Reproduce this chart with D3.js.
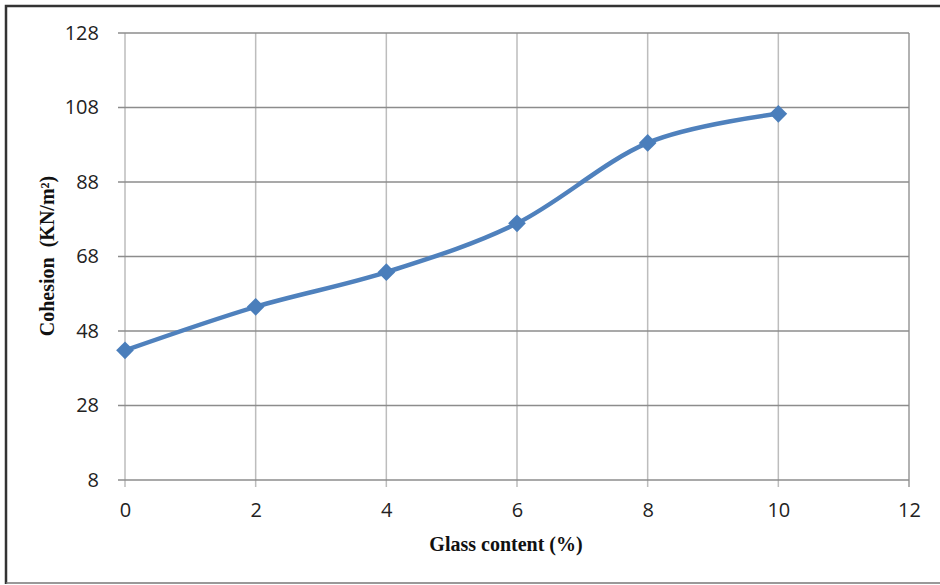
<!DOCTYPE html>
<html><head><meta charset="utf-8">
<script src="https://cdn.jsdelivr.net/npm/d3@7"></script>
<style>body{margin:0;background:#fff}svg{display:block}</style>
</head><body>
<script>
const glassContent = [0, 2, 4, 6, 8, 10];
const cohesion = [42.8, 54.5, 63.8, 76.9, 98.5, 106.3];
const xTicks = [0, 2, 4, 6, 8, 10, 12];
const yTicks = [8, 28, 48, 68, 88, 108, 128];
const xTitle = "Glass content (%)";
const yTitle = "Cohesion  (KN/m²)";

const W = 940, H = 585;
const svg = d3.select("body").append("svg").attr("width", W).attr("height", H);

// outer frame
svg.append("path").attr("d", "M6,584 L6,6 L940,6").attr("fill", "none").attr("stroke", "#333").attr("stroke-width", 2.5);
svg.append("line").attr("x1", 6).attr("x2", 940).attr("y1", 583).attr("y2", 583).attr("stroke", "#777").attr("stroke-width", 1.5);

const x = d3.scaleLinear().domain([0, 12]).range([125, 909]);
const y = d3.scaleLinear().domain([8, 128]).range([480, 33]);

// vertical gridlines
svg.append("g").selectAll("line").data(xTicks).join("line")
  .attr("x1", d => x(d)).attr("x2", d => x(d)).attr("y1", 33).attr("y2", 487)
  .attr("stroke", d => d === 12 ? "#999" : "#bdbdbd").attr("stroke-width", 1.5);
// horizontal gridlines
svg.append("g").selectAll("line").data(yTicks).join("line")
  .attr("x1", 118).attr("x2", 909).attr("y1", d => y(d)).attr("y2", d => y(d))
  .attr("stroke", "#8c8c8c").attr("stroke-width", 1.5);

// tick labels via d3 axes
const yAxis = svg.append("g").attr("transform", "translate(118,0)")
  .call(d3.axisLeft(y).tickValues(yTicks).tickSize(0).tickPadding(19).tickFormat(d3.format("d")));
const xAxis = svg.append("g").attr("transform", "translate(0,487)")
  .call(d3.axisBottom(x).tickValues(xTicks).tickSize(0).tickPadding(16).tickFormat(d3.format("d")));
[yAxis, xAxis].forEach(a => {
  a.select(".domain").remove();
  a.selectAll("text").attr("font-family", "'Open Sans', 'Liberation Sans', sans-serif")
    .attr("font-size", 20).attr("fill", "#222");
});

// titles
svg.append("text").attr("x", 506).attr("y", 551).attr("text-anchor", "middle")
  .attr("font-family", "'Liberation Serif', 'Times New Roman', serif").attr("font-weight", "bold")
  .attr("font-size", 20).attr("fill", "#111").text(xTitle);
svg.append("text").attr("transform", "translate(54,256) rotate(-90)").attr("text-anchor", "middle")
  .attr("font-family", "'Liberation Serif', 'Times New Roman', serif").attr("font-weight", "bold")
  .attr("font-size", 20).attr("fill", "#111").style("white-space", "pre").text(yTitle);

// line
const pts = glassContent.map((g, i) => [g, cohesion[i]]);
const line = d3.line().x(d => x(d[0])).y(d => y(d[1])).curve(d3.curveCardinal.tension(0));
svg.append("path").datum(pts).attr("d", line).attr("fill", "none")
  .attr("stroke", "#4f81bd").attr("stroke-width", 4.5).attr("stroke-linejoin", "round");

const diamond = d3.symbol().type(d3.symbolDiamond2).size(200);
svg.selectAll(".pt").data(pts).join("path").attr("class", "pt")
  .attr("transform", d => `translate(${x(d[0])},${y(d[1])})`)
  .attr("d", diamond).attr("fill", "#4a7ebb");
</script>
</body></html>
